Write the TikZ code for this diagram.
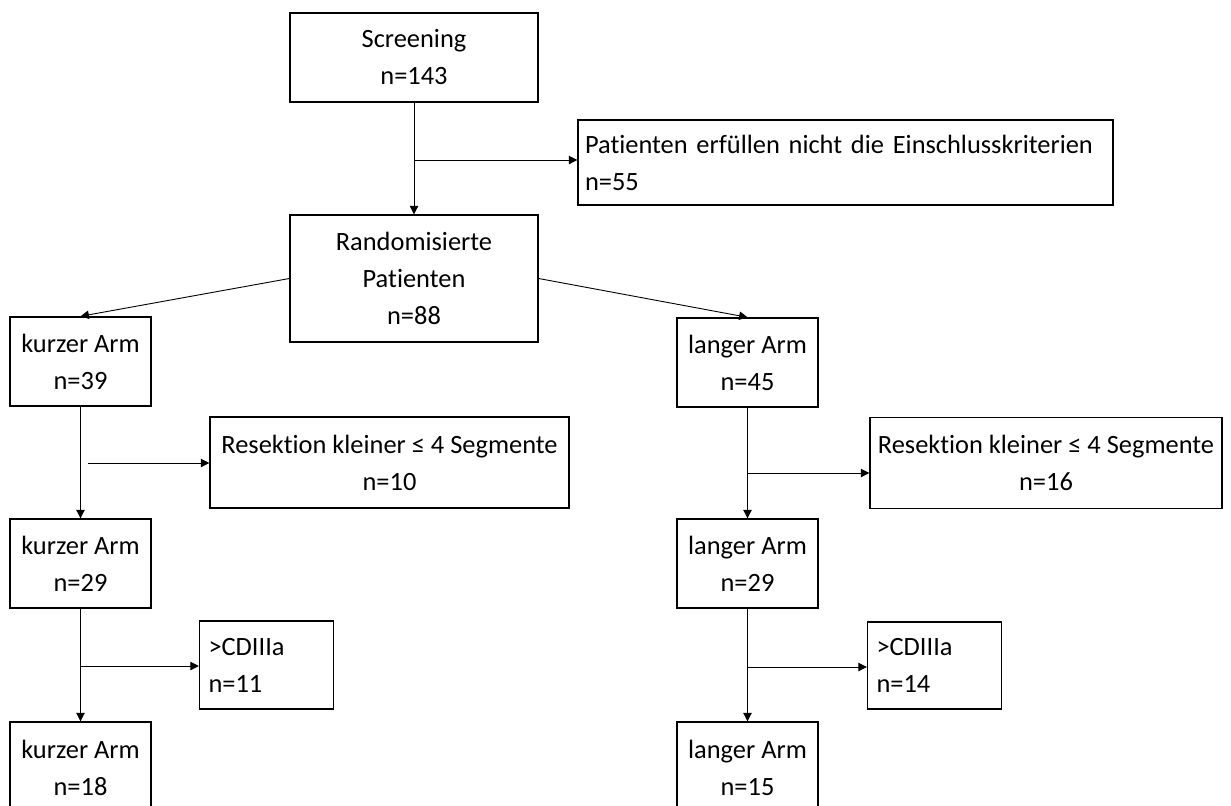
\documentclass[tikz,border=0pt]{standalone}
\usepackage{fontspec}
\setmainfont{Carlito}[Ligatures=CommonOff]
\usetikzlibrary{arrows.meta}
\begin{document}
\begin{tikzpicture}[x=0.5pt,y=-0.5pt,
  box/.style={draw, line width=0.7pt, inner sep=0pt, align=center,
    font=\fontsize{13.2}{18.5}\selectfont},
  lbox/.style={box, align=left},
  arr/.style={line width=0.45pt, -{Triangle[length=4.2pt,width=4.2pt]}}]
\useasboundingbox (0,0) rectangle (1231,805);
\clip (0,0) rectangle (1231,805);
% top
\node[box, minimum width=124pt, minimum height=44.5pt] (scr) at (414,57.5) {Screening\\n=143};
\node[lbox, text width=260.5pt, inner xsep=3.5pt, minimum height=42.5pt] (excl) at (845.5,162.5) {Patienten erfüllen nicht die Einschlusskriterien\\n=55};
\node[box, minimum width=124pt, minimum height=63.5pt] (rand) at (414,278.5) {Randomisierte\\Patienten\\n=88};
% left column
\node[box, minimum width=70.5pt, minimum height=44.5pt] (k1) at (80.5,361.5) {kurzer Arm\\n=39};
\node[box, minimum width=179.5pt, minimum height=45.5pt] (res1) at (389.5,462.5) {Resektion kleiner ≤ 4 Segmente\\n=10};
\node[box, minimum width=70.5pt, minimum height=44.5pt] (k2) at (80.5,563.5) {kurzer Arm\\n=29};
\node[lbox, text width=58pt, inner xsep=4.5pt, minimum height=44pt] (cd1) at (266.5,665) {>CDIIIa\\n=11};
\node[box, minimum width=70.5pt, minimum height=46pt] (k3) at (80.5,768) {kurzer Arm\\n=18};
% right column
\node[box, minimum width=70.5pt, minimum height=44.5pt] (l1) at (747.5,362.5) {langer Arm\\n=45};
\node[box, minimum width=176pt, minimum height=45.5pt] (res2) at (1046,463) {Resektion kleiner ≤ 4 Segmente\\n=16};
\node[box, minimum width=70.5pt, minimum height=44.5pt] (l2) at (747.5,563.5) {langer Arm\\n=29};
\node[lbox, text width=58pt, inner xsep=4.5pt, minimum height=43.5pt] (cd2) at (934.5,665.5) {>CDIIIa\\n=14};
\node[box, minimum width=70.5pt, minimum height=46pt] (l3) at (747.5,768) {langer Arm\\n=15};
% connectors
\draw[arr] (scr.south) -- (rand.north);
\coordinate (b1) at (414,160);
\draw[arr] (b1) -- (b1 -| excl.west);
\draw[arr] (rand.west) -- (k1.north);
\draw[arr] (rand.east) -- (l1.north);
\draw[arr] (k1.south) -- (k2.north);
\coordinate (b2) at (88,463);
\draw[arr] (b2) -- (b2 -| res1.west);
\draw[arr] (k2.south) -- (k3.north);
\coordinate (b3) at (81,666);
\draw[arr] (b3) -- (b3 -| cd1.west);
\draw[arr] (l1.south) -- (l2.north);
\coordinate (b4) at (748,473);
\draw[arr] (b4) -- (b4 -| res2.west);
\draw[arr] (l2.south) -- (l3.north);
\coordinate (b5) at (748,667);
\draw[arr] (b5) -- (b5 -| cd2.west);
\end{tikzpicture}
\end{document}
